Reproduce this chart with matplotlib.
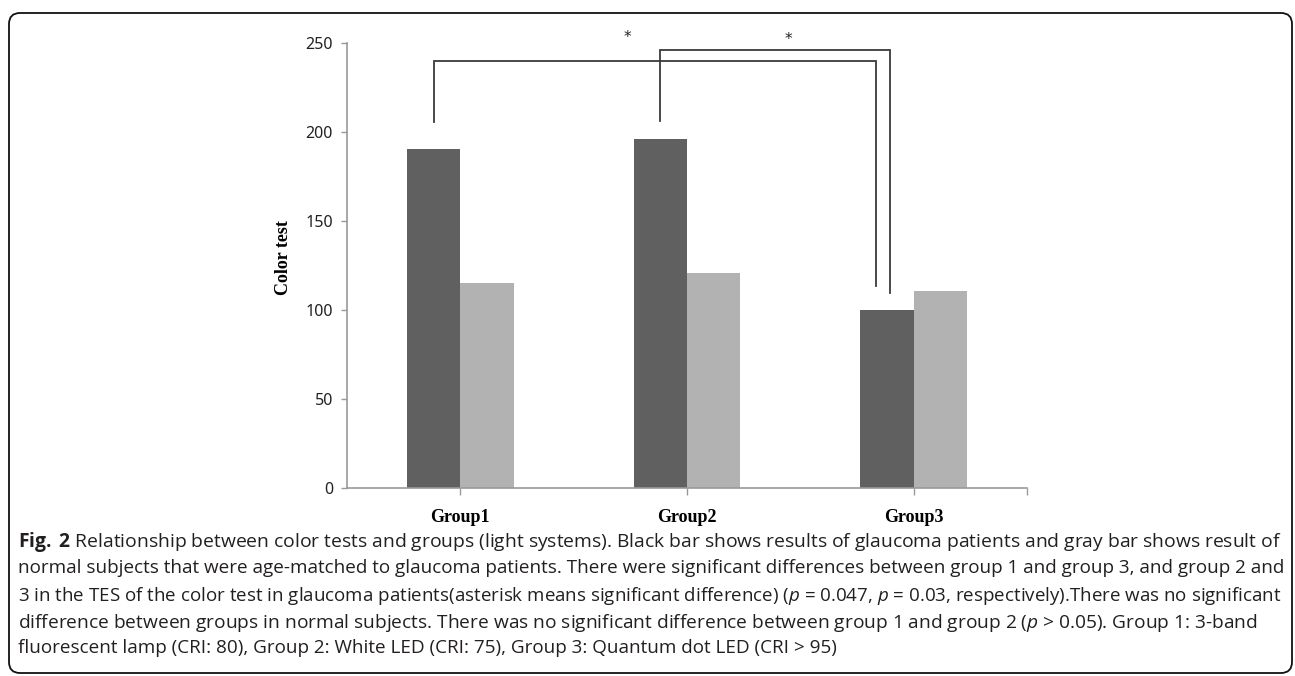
import matplotlib
matplotlib.use("Agg")
import matplotlib.pyplot as plt
from matplotlib.patches import FancyBboxPatch
import numpy as np

# ---- data ----
groups = ["Group1", "Group2", "Group3"]
glaucoma = [190.3, 195.9, 100.0]     # black bars
normal = [115.0, 120.7, 110.6]       # gray bars
yticks = [0, 50, 100, 150, 200, 250]
ylabel = "Color test"
# significance brackets: (from group, to group, left-foot value, top value, right-foot value)
brackets = [(0, 2, 205.6, 240.0, 113.6), (1, 2, 206.2, 246.3, 109.3)]
stars = ["*", "*"]

caption_lines = [
    r"$\mathbf{Fig.\;2}$ Relationship between color tests and groups (light systems). Black bar shows results of glaucoma patients and gray bar shows result of",
    "normal subjects that were age-matched to glaucoma patients. There were significant differences between group 1 and group 3, and group 2 and",
    r"3 in the TES of the color test in glaucoma patients(asterisk means significant difference) ($p$ = 0.047, $p$ = 0.03, respectively).There was no significant",
    r"difference between groups in normal subjects. There was no significant difference between group 1 and group 2 ($p$ > 0.05). Group 1: 3-band",
    "fluorescent lamp (CRI: 80), Group 2: White LED (CRI: 75), Group 3: Quantum dot LED (CRI > 95)",
]
# right end of each caption line in the reference (pixels)
caption_right = [1282, 1283, 1282, 1253, 835]

plt.rcParams["mathtext.fontset"] = "custom"
plt.rcParams["mathtext.rm"] = "Open Sans"
plt.rcParams["mathtext.it"] = "Open Sans:italic"
plt.rcParams["mathtext.bf"] = "Open Sans:bold"

W, H = 1295, 676
fig = plt.figure(figsize=(W / 100, H / 100), dpi=100)
ax = fig.add_axes([347 / W, 1 - 488 / H, 680 / W, 445 / H])

x = np.arange(len(groups))
bw = 0.235
ax.bar(x - bw / 2, glaucoma, width=bw, color="#606060", edgecolor="none")
ax.bar(x + bw / 2, normal, width=bw, color="#b2b2b2", edgecolor="none")

ax.set_xlim(-0.5, 2.5)
ax.set_ylim(0, 250)
ax.set_yticks(yticks)
ax.set_yticklabels([str(v) for v in yticks], fontsize=11.5, family="Noto Sans", color="#222222")
ax.set_xticks(list(x) + [2.5])
ax.set_xticklabels(groups + [""], fontsize=13, family="Liberation Serif", fontweight="bold")
ax.tick_params(axis="y", length=4, width=1, color="#999999", pad=6)
ax.tick_params(axis="x", length=5, width=1, color="#999999", pad=10)

for s in ["top", "right"]:
    ax.spines[s].set_visible(False)
for s in ["left", "bottom"]:
    ax.spines[s].set_color("#999999")
    ax.spines[s].set_linewidth(1.2)

# brackets
right_off = [-0.166, -0.103]
for (g1, g2, yl, yt, yr), ro in zip(brackets, right_off):
    xl = g1 - bw / 2
    xr = g2 + ro
    ax.plot([xl, xl, xr, xr], [yl, yt, yt, yr], color="#3a3a3a", lw=1.3, clip_on=False,
            solid_joinstyle="miter")

star_pos = [(0.736, 253.0), (1.449, 251.8)]
for s, (sx, sy) in zip(stars, star_pos):
    ax.text(sx, sy, s, ha="center", va="center", fontsize=11, family="DejaVu Sans",
            color="#222222", clip_on=False)

fig.text(283 / W, 1 - 258 / H, ylabel, rotation=90, ha="center", va="center",
         fontsize=13, family="Liberation Serif", fontweight="bold")

# caption
x0 = 18
line_y = [539, 566, 593, 620, 646]
renderer = fig.canvas.get_renderer()
for t, yy, xr in zip(caption_lines, line_y, caption_right):
    fs = 13.8
    txt = fig.text(x0 / W, 1 - yy / H, t, ha="left", va="center_baseline", fontsize=fs,
                   family="Open Sans", color="#231f20")
    wpx = txt.get_window_extent(renderer).width
    txt.set_fontsize(fs * (xr - x0) / wpx)

# frame
frame = FancyBboxPatch((0.09, 0.03), 12.83, 6.60,
                       boxstyle="round,pad=0,rounding_size=0.11",
                       transform=fig.dpi_scale_trans, fill=False,
                       edgecolor="#111111", linewidth=1.3)
fig.patches.append(frame)

fig.savefig("out.png", dpi=100)
